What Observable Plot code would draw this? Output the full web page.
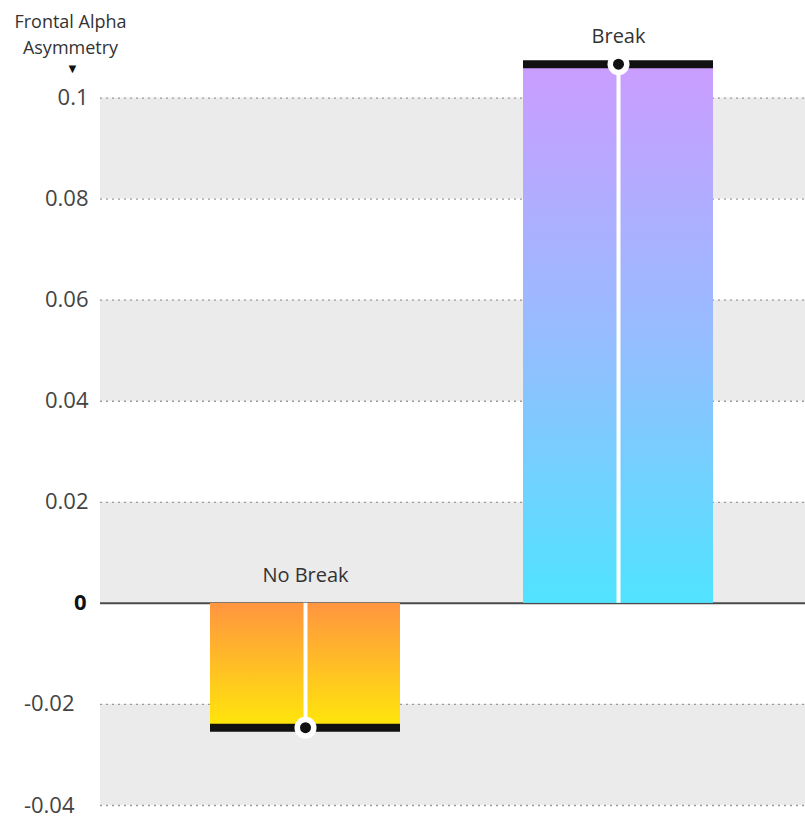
<!DOCTYPE html>
<html><head><meta charset="utf-8">
<script src="https://cdn.jsdelivr.net/npm/d3@7"></script>
<script src="https://cdn.jsdelivr.net/npm/@observablehq/plot@0.6"></script>
<style>body{margin:0;background:#fff}</style>
</head><body><div id="chart"></div>
<script>
const categories = ["No Break", "Break"];
const values = [-0.0246, 0.1067];
const tickValues = [-0.04, -0.02, 0, 0.02, 0.04, 0.06, 0.08, 0.1];
const tickLabels = ["-0.04", "-0.02", "0", "0.02", "0.04", "0.06", "0.08", "0.1"];
const bandStarts = [-0.04, 0, 0.04, 0.08];
const yTitle = ["Frontal Alpha", "Asymmetry"];
const gradients = {
  "No Break": ["#ff9540", "#ffe70a"],
  "Break": ["#cb9dff", "#97bcff", "#50e3ff"]
};

const data = categories.map((c, i) => ({category: c, value: values[i]}));
const fmt = d => tickLabels[tickValues.indexOf(d)];
const font = "'Open Sans', 'Noto Sans', sans-serif";

function defs() {
  const el = d3.create("svg:defs");
  for (const [k, stops] of Object.entries(gradients)) {
    const g = el.append("linearGradient").attr("id", "g" + k.replace(/\s/g, ""))
      .attr("x1", 0).attr("y1", 0).attr("x2", 0).attr("y2", 1);
    stops.forEach((s, i) => g.append("stop").attr("offset", i / (stops.length - 1)).attr("stop-color", s));
  }
  return el.node();
}

const chart = Plot.plot({
  width: 805, height: 818,
  marginLeft: 100, marginRight: 0, marginTop: 47, marginBottom: 13,
  style: {fontFamily: font, background: "#fff"},
  x: {domain: categories, paddingInner: 0.393, paddingOuter: 0.3225, align: 0.545, axis: null},
  y: {domain: [-0.04, 0.11], label: null},
  marks: [
    defs,
    Plot.rectY(bandStarts, {y1: d => d, y2: d => d + 0.02, fill: "#ebebeb"}),
    Plot.ruleY(tickValues.filter(v => v !== 0), {stroke: "#9a9a9a", strokeWidth: 1.3, strokeDasharray: "2,4"}),
    Plot.ruleY([0], {stroke: "#4a4a4a", strokeWidth: 2}),
    ...categories.map(c => Plot.barY(data.filter(d => d.category === c), {x: "category", y: "value", fill: "url(#g" + c.replace(/\s/g, "") + ")"})),
    Plot.ruleX(data, {x: "category", y1: 0, y2: "value", stroke: "white", strokeWidth: 4}),
    Plot.tickY(data, {x: "category", y: "value", stroke: "#111", strokeWidth: 8}),
    Plot.dot(data, {x: "category", y: "value", r: 11, fill: "white"}),
    Plot.dot(data, {x: "category", y: "value", r: 5.5, fill: "#111"}),
    Plot.text(data, {x: "category", y: d => Math.max(0, d.value), text: "category", lineAnchor: "bottom", dy: -21, fontSize: 20, fill: "#333"}),
    Plot.axisY(tickValues.filter(v => v > 0), {label: null, tickSize: 0, tickPadding: 12, fontSize: 22, fill: "#444", tickFormat: fmt}),
    Plot.axisY([0], {label: null, tickSize: 0, tickPadding: 14, fontSize: 22, fontWeight: "bold", fill: "#111", tickFormat: fmt}),
    Plot.axisY(tickValues.filter(v => v < 0), {label: null, tickSize: 0, tickPadding: 26, fontSize: 22, fill: "#444", tickFormat: fmt}),
    Plot.text([yTitle[0]], {frameAnchor: "top-left", dx: -30, dy: -25, lineAnchor: "middle", textAnchor: "middle", fontSize: 18, fill: "#333"}),
    Plot.text([yTitle[1]], {frameAnchor: "top-left", dx: -30, dy: 1, lineAnchor: "middle", textAnchor: "middle", fontSize: 18, fill: "#333"}),
    Plot.text(["▼"], {frameAnchor: "top-left", dx: -28, dy: 21, lineAnchor: "middle", textAnchor: "middle", fontSize: 13, fill: "#111"})
  ]
});
document.getElementById("chart").append(chart);
</script>
</body></html>
